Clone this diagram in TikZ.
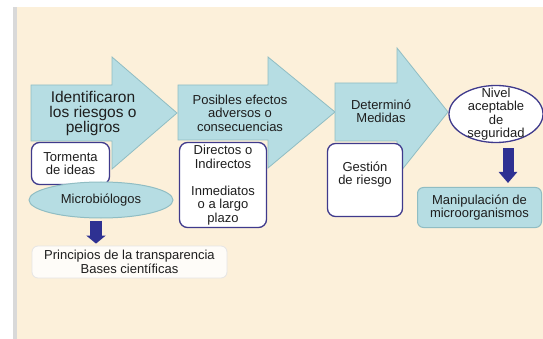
\documentclass[tikz,border=0pt]{standalone}
\usepackage{fontspec}
\setmainfont{Liberation Sans}
\usetikzlibrary{arrows.meta,positioning,shapes,shapes.geometric}
\definecolor{paper}{HTML}{FCF0DA}
\definecolor{flowfill}{HTML}{B6DDE3}
\definecolor{flowline}{HTML}{90BDC3}
\definecolor{boxline}{HTML}{3F3A8C}
\definecolor{downblue}{HTML}{2E3192}
\definecolor{txt}{HTML}{1E1E1E}
\newcommand{\bigtxt}{\fontsize{15.5}{15}\selectfont}

\begin{document}
\begin{tikzpicture}[x=1pt, y=-1pt, font=\fontsize{13}{13.5}\selectfont, text=txt,
  flow/.style={fill=flowfill, draw=flowline, line width=0.8pt},
  whitebox/.style={draw=boxline, fill=white, rounded corners=8pt, line width=1.3pt, align=center, inner sep=2pt},
  downarrow/.style={draw=downblue, line width=#1}]
      \useasboundingbox (0,0) rectangle (543,339);
      %background
      \fill[white] (0,0) rectangle (543,339);
      \fill[black!15] (12.5,7) rectangle (17,339);
      \fill[paper] (17,7) rectangle (543,339);
      %big arrows
      \path[flow] (31,85) -- (112,85) -- (112,57) -- (177,113) -- (112,169) -- (112,141) -- (31,141) -- cycle;
      \path[flow] (178,85) -- (268,85) -- (268,57) -- (335,112) -- (268,168) -- (268,140) -- (178,140) -- cycle;
      \path[flow] (335,83) -- (397,83) -- (397,48) -- (448,112) -- (397,176) -- (397,141) -- (335,141) -- cycle;
      \node[align=center, font=\bigtxt] (ident) at (93,113) {Identificaron\\los riesgos o\\peligros};
      \node[align=center] (efectos) at (240,113) {Posibles efectos\\adversos o\\consecuencias};
      \node[align=center] (medidas) at (381,111.5) {Determinó\\Medidas};
      %nodes
      \node[whitebox, minimum width=78, minimum height=42] (torm) at (70.5,163.5) {Tormenta\\de ideas};
      \node[whitebox, minimum width=87, minimum height=85] (direc) at (223,185) {Directos o\\Indirectos\\ \mbox{}\\Inmediatos\\o a largo\\plazo};
      \node[whitebox, minimum width=75, minimum height=73] (gest) at (365,180) {Gestión\\de riesgo\\ \mbox{}};
      \node[ellipse, fill=flowfill, draw=flowline, line width=1pt, minimum width=144, minimum height=36, inner sep=0pt] (micro) at (101,200) {Microbiólogos};
      \node[rounded corners=6pt, fill=white!80!paper, draw=black!10, line width=0.8pt, minimum width=195, minimum height=32, align=center, inner sep=1pt] (princ) at (129.5,262) {Principios de la transparencia\\Bases científicas};
      \node[ellipse, fill=white, draw=boxline, line width=1.3pt, minimum width=94, minimum height=57, inner sep=0pt] (nivel) at (496,114) {};
      \node[align=center] (niveltxt) at (nivel.center) {Nivel\\aceptable\\de\\seguridad};
      \node[rounded corners=6pt, fill=flowfill, draw=flowline, line width=1pt, minimum width=124, minimum height=40, align=center] (manip) at (479.5,207.5) {Manipulación de\\microorganismos};
      %edges
      \path [downarrow=12pt, -{Triangle[width=19pt,length=8pt]}] ([xshift=-5pt, yshift=-2pt]micro.south) to ([xshift=-5pt, yshift=2pt]micro.south |- princ.north);
      \path [downarrow=11pt, -{Triangle[width=18pt,length=11pt]}] ([xshift=12pt, yshift=-5pt]nivel.south) to ([xshift=12pt, yshift=4pt]nivel.south |- manip.north);
    \end{tikzpicture}
\end{document}
